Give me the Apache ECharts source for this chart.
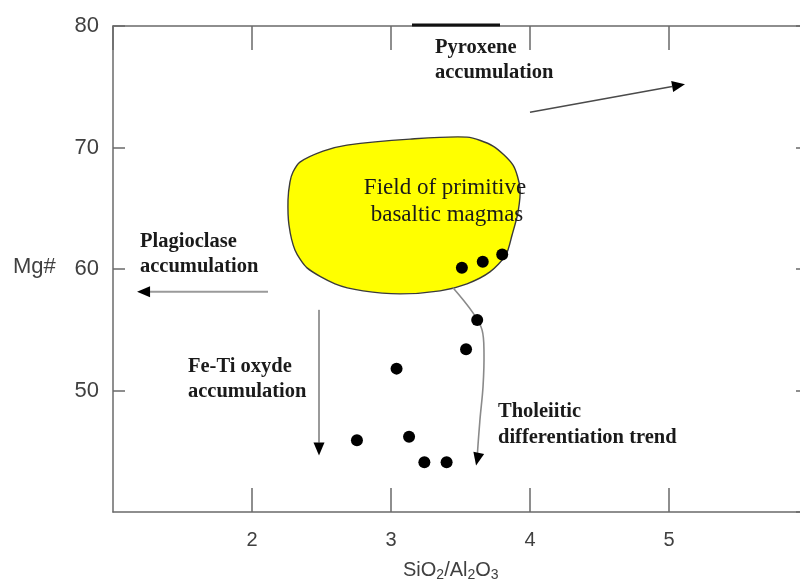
<!DOCTYPE html>
<html><head><meta charset="utf-8">
<script src="https://cdn.jsdelivr.net/npm/echarts@6/dist/echarts.min.js"></script>
<style>html,body{margin:0;padding:0;background:#fff}#c{width:800px;height:586px}</style>
</head><body><div id="c"></div>
<script>
// Sample points: SiO2/Al2O3 vs Mg#
const sampleX  = [3.51, 3.66, 3.80, 3.62, 3.54, 3.04, 2.755, 3.13, 3.24, 3.40];
const sampleMg = [60.1, 60.6, 61.2, 55.8, 53.4, 51.8, 45.9, 46.2, 44.1, 44.1];

// Axis ticks
const xTicks = [2, 3, 4, 5];
const yTicks = [50, 60, 70, 80];

// Field of primitive basaltic magmas (outline, data units)
const fieldX  = [2.295, 2.345, 2.511, 2.683, 3.137, 3.547, 3.734, 3.878, 3.928, 3.914, 3.871, 3.827, 3.712, 3.547, 3.353, 3.065, 2.799, 2.597, 2.396, 2.309, 2.266, 2.259, 2.273];
const fieldMg = [67.98, 68.8, 69.7, 70.2, 70.69, 70.85, 70.12, 68.55, 66.66, 64.69, 62.8, 61.16, 59.76, 58.78, 58.2, 57.95, 58.2, 58.78, 60.09, 61.57, 63.62, 65.68, 67.16];

// Trend arrows (data units)
const pyroxeneArrow    = [[4.00, 72.91], [5.115, 75.21]];
const plagioclaseArrow = [[2.115, 58.12], [1.173, 58.12]];
const feTiArrow        = [[2.482, 56.64], [2.482, 44.64]];
const tholeiiticTrend  = [[3.446, 58.45], [3.59, 56.39], [3.655, 54.99], [3.669, 53.11], [3.662, 50.31], [3.64, 47.6], [3.619, 44.2], [3.612, 43.82]];

const arrows = [
  {pts: pyroxeneArrow, color: '#4a4a4a', width: 1.5, smooth: 0},
  {pts: plagioclaseArrow, color: '#9a9a9a', width: 2, smooth: 0},
  {pts: feTiArrow, color: '#9a9a9a', width: 2, smooth: 0},
  {pts: tholeiiticTrend, color: '#8a8a8a', width: 1.6, smooth: 0.35}
];

const chart = echarts.init(document.getElementById('c'), null, {renderer: 'canvas'});

const axisCol = '#6a6a6a';
const labCol = '#404040';
const sans = 'Liberation Sans, Arial, sans-serif';
const serif = 'Liberation Serif, Times New Roman, serif';
const annFont = 'bold 20.5px ' + serif;

function arrowRender(params, api) {
  const a = arrows[api.value(2)];
  const p = a.pts.map(d => api.coord(d));
  const tip = p[p.length - 1];
  const prev = p[p.length - 2];
  let dx = tip[0] - prev[0], dy = tip[1] - prev[1];
  const L = Math.hypot(dx, dy) || 1; dx /= L; dy /= L;
  const len = 13, hw = 5.5;
  const bx = tip[0] - dx * len, by = tip[1] - dy * len;
  const head = [tip, [bx - dy * hw, by + dx * hw], [bx + dy * hw, by - dx * hw]];
  const linePts = p.slice(0, -1).concat([[bx, by]]);
  return {
    type: 'group',
    children: [
      {type: 'polyline', shape: {points: linePts, smooth: a.smooth}, style: {stroke: a.color, lineWidth: a.width, fill: null}},
      {type: 'polygon', shape: {points: head}, style: {fill: '#000'}}
    ]
  };
}

const option = {
  animation: false,
  backgroundColor: '#fff',
  grid: {left: 113, right: -8, top: 26, bottom: 74, containLabel: false, outerBoundsMode: 'none'},
  xAxis: [
    {type: 'value', min: 1, max: 6, interval: 1, position: 'bottom',
     axisLine: {show: true, onZero: false, lineStyle: {color: axisCol, width: 1.5}},
     axisTick: {show: true, inside: true, length: 24, lineStyle: {color: axisCol, width: 1.5}},
     axisLabel: {show: true, showMinLabel: false, showMaxLabel: false, margin: 18, color: labCol, fontSize: 20, fontFamily: sans,
                 formatter: v => xTicks.includes(v) ? String(v) : ''},
     splitLine: {show: false}},
    {type: 'value', min: 1, max: 6, interval: 1, position: 'top',
     axisLine: {show: true, onZero: false, lineStyle: {color: axisCol, width: 1.5}},
     axisTick: {show: true, inside: true, length: 24, lineStyle: {color: axisCol, width: 1.5}},
     axisLabel: {show: false}, splitLine: {show: false}}
  ],
  yAxis: [
    {type: 'value', min: 40, max: 80, interval: 10, position: 'left',
     axisLine: {show: true, onZero: false, lineStyle: {color: axisCol, width: 1.5}},
     axisTick: {show: true, inside: true, length: 12, lineStyle: {color: axisCol, width: 1.5}},
     axisLabel: {show: true, showMinLabel: false, margin: 14, color: labCol, fontSize: 22, fontFamily: sans,
                 formatter: v => yTicks.includes(v) ? String(v) : ''},
     splitLine: {show: false}},
    {type: 'value', min: 40, max: 80, interval: 10, position: 'right',
     axisLine: {show: true, onZero: false, lineStyle: {color: axisCol, width: 1.5}},
     axisTick: {show: true, inside: true, length: 12, lineStyle: {color: axisCol, width: 1.5}},
     axisLabel: {show: false}, splitLine: {show: false}}
  ],
  series: [
    {type: 'custom', name: 'field', z: 1, clip: false,
     data: [[fieldX[0], fieldMg[0]]],
     renderItem: (params, api) => {
       const pts = fieldX.map((x, i) => api.coord([x, fieldMg[i]]));
       return {type: 'polygon', shape: {points: pts, smooth: 0.25},
               style: {fill: '#ffff00', stroke: '#3a3a3a', lineWidth: 1.4}};
     }},
    {type: 'custom', name: 'arrows', z: 2, clip: false,
     data: arrows.map((a, i) => [a.pts[0][0], a.pts[0][1], i]),
     renderItem: arrowRender},
    {type: 'scatter', name: 'samples', z: 5, symbol: 'circle', symbolSize: 12,
     itemStyle: {color: '#000', opacity: 1},
     data: sampleX.map((x, i) => [x, sampleMg[i]])}
  ],
  graphic: [
    {type: 'line', z: 50, shape: {x1: 412, y1: 25, x2: 500, y2: 25}, style: {stroke: '#111', lineWidth: 3}},
    {type: 'text', z: 100, left: 13, top: 256, style: {text: 'Mg#', font: '22px ' + sans, fill: labCol}},
    {type: 'text', z: 100, left: 403, top: 560, style: {
      text: 'SiO{s|2}/Al{s|2}O{s|3}', font: '20px ' + sans, fill: labCol,
      rich: {s: {fontSize: 14, fontFamily: sans, fill: labCol, padding: [10, 0, 0, 0], verticalAlign: 'top'}}
    }},
    {type: 'text', z: 100, x: 435, y: 48, style: {text: 'Pyroxene', font: annFont, fill: '#1a1a1a', verticalAlign: 'middle'}},
    {type: 'text', z: 100, x: 435, y: 73, style: {text: 'accumulation', font: annFont, fill: '#1a1a1a', verticalAlign: 'middle'}},
    {type: 'text', z: 100, x: 140, y: 242, style: {text: 'Plagioclase', font: annFont, fill: '#1a1a1a', verticalAlign: 'middle'}},
    {type: 'text', z: 100, x: 140, y: 267, style: {text: 'accumulation', font: annFont, fill: '#1a1a1a', verticalAlign: 'middle'}},
    {type: 'text', z: 100, x: 188, y: 367, style: {text: 'Fe-Ti oxyde', font: annFont, fill: '#1a1a1a', verticalAlign: 'middle'}},
    {type: 'text', z: 100, x: 188, y: 392, style: {text: 'accumulation', font: annFont, fill: '#1a1a1a', verticalAlign: 'middle'}},
    {type: 'text', z: 100, x: 498, y: 412, style: {text: 'Tholeiitic', font: annFont, fill: '#1a1a1a', verticalAlign: 'middle'}},
    {type: 'text', z: 100, x: 498, y: 438, style: {text: 'differentiation trend', font: annFont, fill: '#1a1a1a', verticalAlign: 'middle'}},
    {type: 'text', z: 100, x: 445, y: 188, style: {text: 'Field of primitive', font: '23px ' + serif, fill: '#1a1a1a', align: 'center', verticalAlign: 'middle'}},
    {type: 'text', z: 100, x: 447, y: 215, style: {text: 'basaltic magmas', font: '23px ' + serif, fill: '#1a1a1a', align: 'center', verticalAlign: 'middle'}}
  ]
};
chart.setOption(option);
</script>
</body></html>
